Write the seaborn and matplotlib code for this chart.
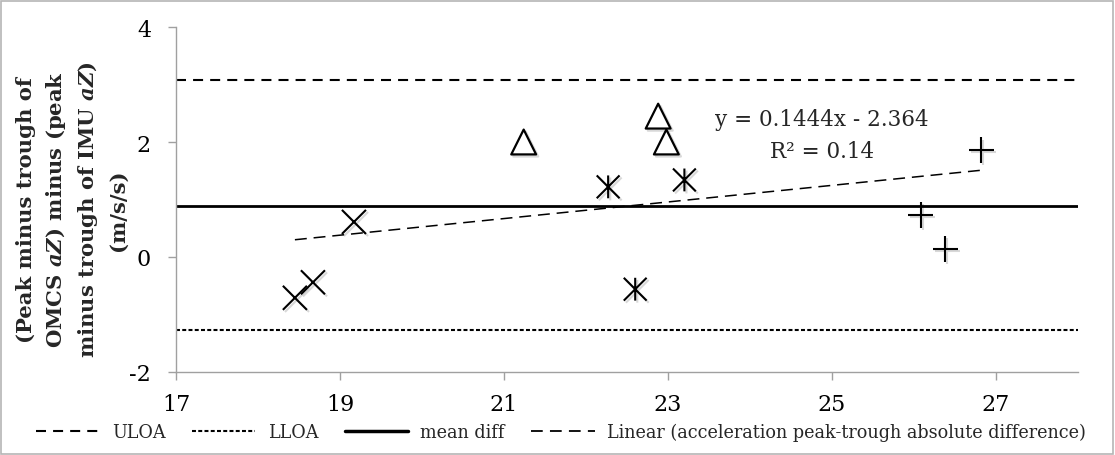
import matplotlib
matplotlib.use("Agg")
import matplotlib.pyplot as plt
import matplotlib.patheffects as pe
from matplotlib.path import Path
from matplotlib.patches import Rectangle
from matplotlib.lines import Line2D
import numpy as np
import pandas as pd
import seaborn as sns

# ---- data ----
group_x_x = [18.45, 18.67, 19.17]
group_x_y = [-0.71, -0.44, 0.61]
group_tri_x = [21.24, 22.88, 22.98]
group_tri_y = [2.00, 2.45, 2.00]
group_star_x = [22.27, 23.20, 22.60]
group_star_y = [1.22, 1.34, -0.56]
group_plus_x = [26.82, 26.08, 26.38]
group_plus_y = [1.86, 0.73, 0.14]

uloa = 3.07
lloa = -1.27
mean_diff = 0.88
trend_slope = 0.1444
trend_intercept = -2.364
eq_text = "y = 0.1444x - 2.364"
r2_text = "R² = 0.14"

x_ticks = [17, 19, 21, 23, 25, 27]
y_ticks = [-2, 0, 2, 4]
legend_labels = ["ULOA", "LLOA", "mean diff",
                 "Linear (acceleration peak-trough absolute difference)"]

sns.set_theme(style="ticks")
plt.rcParams.update({
    "font.family": ["DejaVu Serif"],
    "axes.unicode_minus": False,
    "mathtext.fontset": "custom",
    "mathtext.it": "DejaVu Serif:italic:bold",
    "mathtext.rm": "DejaVu Serif:bold",
    "xtick.major.size": 6, "ytick.major.size": 6,
    "xtick.major.width": 1, "ytick.major.width": 1,
    "xtick.major.pad": 9, "ytick.major.pad": 12,
    "xtick.direction": "out", "ytick.direction": "out",
    "xtick.color": "#a0a0a0", "ytick.color": "#a0a0a0",
    "xtick.labelcolor": "black", "ytick.labelcolor": "black",
    "xtick.labelsize": 16, "ytick.labelsize": 16,
    "xtick.bottom": True, "ytick.left": True,
})

fig = plt.figure(figsize=(11.15, 4.56), dpi=100)
ax = fig.add_axes([176/1115, 1-373/456, (1078-176)/1115, (373-28)/456])

shadow = [pe.SimpleLineShadow(offset=(1.5, -1.5), shadow_color="gray", alpha=0.3), pe.Normal()]

# reference lines
ax.axhline(uloa, color="black", lw=1.5, ls=(0, (4.8, 3.4)))
ax.axhline(lloa, color="black", lw=1.5, ls=(0, (1.9, 1.1)))
ax.axhline(mean_diff, color="black", lw=2.0, ls="-")

# trend line
all_x = np.array(group_x_x + group_tri_x + group_star_x + group_plus_x)
tx = np.array([all_x.min(), all_x.max()])
trend_df = pd.DataFrame({"x": tx, "y": trend_slope * tx + trend_intercept})
sns.lineplot(data=trend_df, x="x", y="y", ax=ax, color="black", lw=1.1,
             linestyle=(0, (7.8, 4.5)))

# markers
star_path = Path([(0, -1), (0, 1), (-1, -1), (1, 1), (-1, 1), (1, -1)],
                 [Path.MOVETO, Path.LINETO, Path.MOVETO, Path.LINETO, Path.MOVETO, Path.LINETO])

sns.scatterplot(x=group_x_x, y=group_x_y, ax=ax, marker="x", s=300,
                color="black", linewidth=1.5)
sns.scatterplot(x=group_tri_x, y=group_tri_y, ax=ax, marker="^", s=320,
                facecolor="white", edgecolor="black", linewidth=1.6)
sns.scatterplot(x=group_star_x, y=group_star_y, ax=ax, marker=star_path, s=270,
                facecolor="none", edgecolor="black", linewidth=1.5)
sns.scatterplot(x=group_plus_x, y=group_plus_y, ax=ax, marker="+", s=330,
                color="black", linewidth=1.5)
for coll in ax.collections:
    coll.set_path_effects(shadow)

# equation text
ax.text(24.88, 2.40, eq_text, ha="center", va="center", fontsize=15.5)
ax.text(24.88, 1.84, r2_text, ha="center", va="center", fontsize=15.5)

ax.set_xlim(17, 28)
ax.set_ylim(-2, 4)
ax.set_xticks(x_ticks)
ax.set_yticks(y_ticks)
ax.set_xlabel("")
ax.set_ylabel("")
for side in ["top", "right"]:
    ax.spines[side].set_visible(False)
for side in ["left", "bottom"]:
    ax.spines[side].set_color("#a0a0a0")
    ax.spines[side].set_linewidth(1.0)
ax.grid(False)

# y label
label_u = "(Peak minus trough of\nOMCS $a\\underline{Z}$) minus (peak\nminus trough of IMU $a\\underline{Z}$)\n(m/s/s)"
label_p = "(Peak minus trough of\nOMCS $aZ$) minus (peak\nminus trough of IMU $aZ$)\n(m/s/s)"
yl = fig.text(72/1115, 1-210/456, label_u, rotation=90, ha="center", va="center",
              multialignment="center", fontsize=15.2, fontweight="bold", linespacing=1.45)
try:
    fig.canvas.draw()
except Exception:
    yl.set_text(label_p)

# legend
handles = [
    Line2D([0], [0], color="black", lw=1.5, ls=(0, (4.8, 3.4))),
    Line2D([0], [0], color="black", lw=1.5, ls=(0, (1.9, 1.1))),
    Line2D([0], [0], color="black", lw=2.5, ls="-"),
    Line2D([0], [0], color="black", lw=1.3, ls=(0, (6.5, 4.0))),
]
fig.legend(handles, legend_labels, loc="center", bbox_to_anchor=(561/1115, 1-433/456),
           ncol=4, frameon=False, fontsize=12.7, handlelength=3.6,
           handletextpad=0.7, columnspacing=1.5)

# figure border
fig.patches.append(Rectangle((1/1115, 1/456), 1112/1115, 453/456, transform=fig.transFigure,
                             fill=False, edgecolor="#b5b5b5", lw=1.2))

fig.savefig("out.png", dpi=100)
